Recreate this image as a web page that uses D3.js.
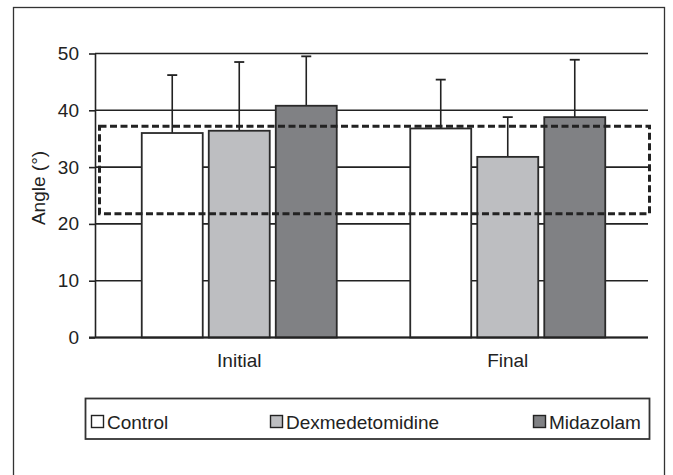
<!DOCTYPE html>
<html>
<head>
<meta charset="utf-8">
<script src="https://cdn.jsdelivr.net/npm/d3@7"></script>
<style>
  body { margin: 0; background: #fff; }
  text { font-family: "Liberation Sans", Arial, sans-serif; fill: #222; }
</style>
</head>
<body>
<svg id="chart"></svg>
<script>
const categories = ["Initial", "Final"];
const groups = ["Control", "Dexmedetomidine", "Midazolam"];
const colors = ["#ffffff", "#bdbec1", "#808184"];
// means, per group, in order of categories
const means = {
  Control: [36.0, 36.8],
  Dexmedetomidine: [36.4, 31.8],
  Midazolam: [40.8, 38.8]
};
// upper error (SD) per group
const errors = {
  Control: [10.2, 8.6],
  Dexmedetomidine: [12.1, 7.0],
  Midazolam: [8.7, 10.1]
};
const yTicks = [0, 10, 20, 30, 40, 50];
const refRange = [21.8, 37.2];

const width = 673;
const height = 475;

const svg = d3.select('#chart')
  .attr('width', width)
  .attr('height', height);

// outer frame (runs off the bottom like the original)
svg.append('rect')
  .attr('x', 13.5).attr('y', 7.5)
  .attr('width', 651).attr('height', 500)
  .attr('fill', 'none')
  .attr('stroke', '#333')
  .attr('stroke-width', 1.3);

const plotLeft = 95, plotRight = 648;

const y = d3.scaleLinear().domain([0, 50]).range([337.5, 53.5]);
const x0 = d3.scaleBand().domain(categories).range([105, 642]);
const x1 = d3.scaleBand().domain(groups)
  .range([36.75, x0.bandwidth() - 36.75])
  .paddingInner(0.09);

const data = [];
categories.forEach((c, i) => {
  groups.forEach((g, j) => {
    data.push({cat: c, group: g, value: means[g][i], err: errors[g][i], color: colors[j]});
  });
});

// gridlines
svg.append('g').selectAll('line').data(yTicks).enter().append('line')
  .attr('x1', plotLeft).attr('x2', plotRight)
  .attr('y1', d => y(d)).attr('y2', d => y(d))
  .attr('stroke', '#222').attr('stroke-width', 1.6);

// y axis
const yAxis = d3.axisLeft(y).tickValues(yTicks).tickSize(6).tickSizeOuter(0).tickPadding(10);
const ya = svg.append('g')
  .attr('transform', `translate(${plotLeft},0)`)
  .call(yAxis);
ya.select('.domain').attr('stroke', '#222').attr('stroke-width', 1.6);
ya.selectAll('.tick line').attr('stroke', '#222').attr('stroke-width', 1.6);
ya.selectAll('.tick text')
  .attr('font-size', 19)
  .style('font-family', '"Liberation Sans", Arial, sans-serif')
  .attr('fill', '#222');

svg.append('text')
  .attr('transform', 'translate(45,188) rotate(-90)')
  .attr('text-anchor', 'middle')
  .attr('font-size', 19)
  .text('Angle (°)');

// error bars (upper only)
const eb = svg.append('g').selectAll('g').data(data).enter().append('g');
eb.append('line')
  .attr('x1', d => x0(d.cat) + x1(d.group) + x1.bandwidth() / 2)
  .attr('x2', d => x0(d.cat) + x1(d.group) + x1.bandwidth() / 2)
  .attr('y1', d => y(d.value))
  .attr('y2', d => y(d.value + d.err))
  .attr('stroke', '#222').attr('stroke-width', 1.6);
eb.append('line')
  .attr('x1', d => x0(d.cat) + x1(d.group) + x1.bandwidth() / 2 - 5)
  .attr('x2', d => x0(d.cat) + x1(d.group) + x1.bandwidth() / 2 + 5)
  .attr('y1', d => y(d.value + d.err))
  .attr('y2', d => y(d.value + d.err))
  .attr('stroke', '#222').attr('stroke-width', 1.8);

// bars
svg.append('g').selectAll('rect').data(data).enter().append('rect')
  .attr('x', d => x0(d.cat) + x1(d.group))
  .attr('y', d => y(d.value))
  .attr('width', x1.bandwidth())
  .attr('height', d => y(0) - y(d.value))
  .attr('fill', d => d.color)
  .attr('stroke', '#2a2a2a')
  .attr('stroke-width', 1.8);

// baseline on top of bars
svg.append('line')
  .attr('x1', plotLeft - 6).attr('x2', plotRight)
  .attr('y1', y(0)).attr('y2', y(0))
  .attr('stroke', '#222').attr('stroke-width', 1.8);

// dashed reference box
svg.append('rect')
  .attr('x', 99.5)
  .attr('y', y(refRange[1]))
  .attr('width', 649.5 - 99.5)
  .attr('height', y(refRange[0]) - y(refRange[1]))
  .attr('fill', 'none')
  .attr('stroke', '#222')
  .attr('stroke-width', 3)
  .attr('stroke-dasharray', '7,3.5');

// category labels
const xAxis = d3.axisBottom(x0).tickSize(0).tickPadding(0);
const xa = svg.append('g')
  .attr('transform', `translate(0,${y(0)})`)
  .call(xAxis);
xa.select('.domain').remove();
xa.selectAll('.tick text')
  .attr('y', 29.5)
  .attr('dy', 0)
  .attr('font-size', 19)
  .style('font-family', '"Liberation Sans", Arial, sans-serif')
  .attr('fill', '#222');

// legend
const legend = svg.append('g');
legend.append('rect')
  .attr('x', 85.5).attr('y', 398.5)
  .attr('width', 564).attr('height', 40.5)
  .attr('fill', '#fff')
  .attr('stroke', '#333')
  .attr('stroke-width', 1.8);
const legendX = [91, 270, 533];
const li = legend.selectAll('g.item').data(groups).enter().append('g')
  .attr('transform', (d, i) => `translate(${legendX[i]},415)`);
li.append('rect')
  .attr('x', 0.5).attr('y', 0.5)
  .attr('width', 12).attr('height', 12)
  .attr('fill', (d, i) => colors[i])
  .attr('stroke', '#222')
  .attr('stroke-width', 1.4);
li.append('text')
  .attr('x', 16).attr('y', 13.5)
  .attr('font-size', 19)
  .text(d => d);
</script>
</body>
</html>
